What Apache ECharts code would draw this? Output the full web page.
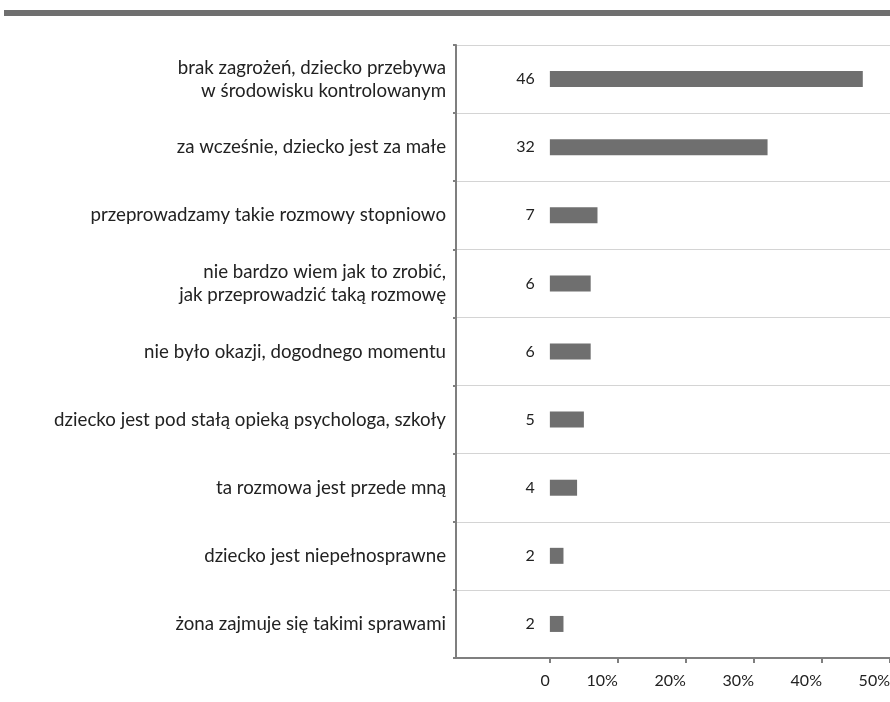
<!DOCTYPE html>
<html>
<head>
<meta charset="utf-8">
<script src="https://cdn.jsdelivr.net/npm/echarts@6/dist/echarts.min.js"></script>
<style>
  html, body { margin: 0; padding: 0; background: #fff; }
  #chart { width: 890px; height: 702px; }
</style>
</head>
<body>
<div id="chart"></div>
<script>
const categories = [
  'brak zagrożeń, dziecko przebywa\nw środowisku kontrolowanym',
  'za wcześnie, dziecko jest za małe',
  'przeprowadzamy takie rozmowy stopniowo',
  'nie bardzo wiem jak to zrobić,\njak przeprowadzić taką rozmowę',
  'nie było okazji, dogodnego momentu',
  'dziecko jest pod stałą opieką psychologa, szkoły',
  'ta rozmowa jest przede mną',
  'dziecko jest niepełnosprawne',
  'żona zajmuje się takimi sprawami'
]
const values = [46, 32, 7, 6, 6, 5, 4, 2, 2]
const tickValues = [0, 10, 20, 30, 40, 50]

const FONT = 'Lato, "Open Sans", sans-serif'
const TEXT = '#222'
const AXIS = '#7f7f7f'
const BAR = '#6f6f6f'

const chart = echarts.init(document.getElementById('chart'), null, { renderer: 'canvas' })

chart.setOption({
  animation: false,
  textStyle: { fontFamily: FONT },
  graphic: [
    // grey header strip left over from the page above the chart
    { type: 'rect', left: 4, top: 10, shape: { width: 886, height: 6 },
      style: { fill: BAR } }
  ],
  grid: { left: 456, right: 0, top: 45, bottom: 44, containLabel: false, outerBoundsMode: 'none' },
  xAxis: {
    type: 'value',
    min: -13.8,
    max: 50,
    axisLine: { show: true, lineStyle: { color: AXIS, width: 2 } },
    axisTick: { show: true, length: 5, customValues: tickValues,
      lineStyle: { color: AXIS, width: 2 } },
    axisLabel: {
      customValues: tickValues,
      color: TEXT, fontSize: 16, fontFamily: FONT, margin: 15, align: 'right',
      formatter: v => v === 0 ? '0' : v + '%'
    },
    splitLine: { show: false }
  },
  yAxis: {
    type: 'category',
    inverse: true,
    data: categories,
    axisLine: { show: true, onZero: false, lineStyle: { color: AXIS, width: 2 } },
    axisTick: { show: true, length: 3, lineStyle: { color: AXIS, width: 2 } },
    axisLabel: { color: TEXT, fontSize: 18.7, fontFamily: FONT, margin: 10,
      lineHeight: 23, align: 'right' },
    splitLine: { show: true, lineStyle: { color: '#d4d4d4', width: 1 } }
  },
  series: [{
    type: 'bar',
    data: values,
    barWidth: 16,
    itemStyle: { color: BAR },
    label: {
      show: true, position: 'left', distance: 15,
      color: TEXT, fontSize: 16, fontFamily: FONT
    }
  }]
})
</script>
</body>
</html>
